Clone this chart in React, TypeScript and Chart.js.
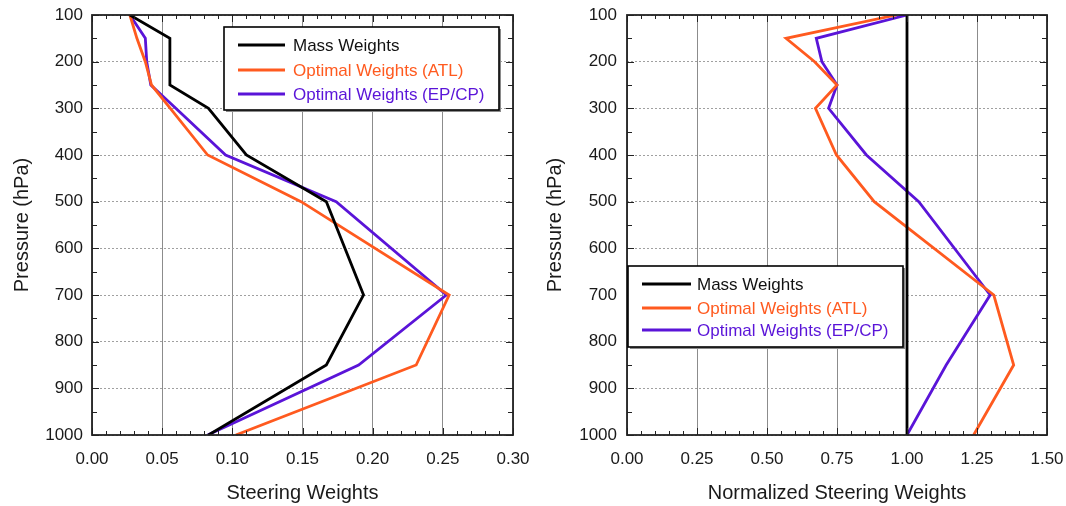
import React, { useEffect, useRef } from "react";
import { Chart, registerables } from "chart.js";
Chart.register(...registerables);

// ---- data ----
const pressureLevels = [100, 150, 200, 250, 300, 400, 500, 700, 850, 1000];
const massWeights = [0.027, 0.0555, 0.0555, 0.0555, 0.083, 0.11, 0.167, 0.1935, 0.167, 0.083];
const atlWeights = [0.027, 0.032, 0.038, 0.0424, 0.0558, 0.0824, 0.149, 0.2545, 0.231, 0.1025];
const epcpWeights = [0.027, 0.038, 0.039, 0.0419, 0.0597, 0.0952, 0.174, 0.2525, 0.19, 0.0824];

const massNorm = [1, 1, 1, 1, 1, 1, 1, 1, 1, 1];
const atlNorm = [0.962, 0.568, 0.67, 0.75, 0.673, 0.748, 0.883, 1.31, 1.381, 1.238];
const epcpNorm = [1.0, 0.676, 0.696, 0.75, 0.72, 0.855, 1.042, 1.297, 1.14, 1.0];

const seriesNames = ["Mass Weights", "Optimal Weights (ATL)", "Optimal Weights (EP/CP)"];
const leftXTitle = "Steering Weights";
const rightXTitle = "Normalized Steering Weights";
const yTitle = "Pressure (hPa)";

// ---- style ----
const FONT = "'Liberation Sans', Arial, Helvetica, sans-serif";
const COLORS = ["#000000", "#FF5A1F", "#5A14D8"];

type PanelProps = {
  offsetLeft: number;
  values: number[][];
  xMax: number;
  xStep: number;
  xMinor: number;
  xTitle: string;
  plotLeft: number;
  padRight: number;
  yPad: number;
  legend: { x: number; y: number; w: number; h: number; lx1: number; lx2: number; tx: number; rows: number[] };
};

function Panel(p: PanelProps) {
  const ref = useRef<HTMLCanvasElement | null>(null);
  useEffect(() => {
    if (!ref.current) return;
    const framePlugin = {
      id: "frameAndLegend",
      afterDatasetsDraw(chart: any) {
        const ctx = chart.ctx as CanvasRenderingContext2D;
        const a = chart.chartArea;
        const xs = chart.scales.x;
        const ys = chart.scales.y;
        ctx.save();
        ctx.strokeStyle = "#222";
        ctx.lineWidth = 1;
        // y ticks (major 100, minor 50)
        for (let v = 100; v <= 1000; v += 50) {
          const py = Math.round(ys.getPixelForValue(v)) + 0.5;
          const len = v % 100 === 0 ? 7 : 5;
          ctx.beginPath();
          ctx.moveTo(a.left, py);
          ctx.lineTo(a.left + len, py);
          ctx.moveTo(a.right, py);
          ctx.lineTo(a.right - len, py);
          ctx.stroke();
        }
        // x ticks
        const n = Math.round(p.xMax / p.xMinor);
        const per = Math.round(p.xStep / p.xMinor);
        for (let i = 0; i <= n; i++) {
          const px = Math.round(xs.getPixelForValue(i * p.xMinor)) + 0.5;
          const len = i % per === 0 ? 7 : 4;
          ctx.beginPath();
          ctx.moveTo(px, a.top);
          ctx.lineTo(px, a.top + len);
          ctx.moveTo(px, a.bottom);
          ctx.lineTo(px, a.bottom - len);
          ctx.stroke();
        }
        // frame
        ctx.strokeStyle = "#222";
        ctx.lineWidth = 1.8;
        ctx.strokeRect(a.left, a.top, a.right - a.left, a.bottom - a.top);

        // legend
        const L = p.legend;
        ctx.fillStyle = "#8a8a8a";
        ctx.fillRect(L.x + 2, L.y + 2, L.w, L.h);
        ctx.fillStyle = "#ffffff";
        ctx.fillRect(L.x, L.y, L.w, L.h);
        ctx.strokeStyle = "#000";
        ctx.lineWidth = 1.6;
        ctx.strokeRect(L.x, L.y, L.w, L.h);
        ctx.font = "17px " + FONT;
        ctx.textBaseline = "middle";
        ctx.textAlign = "left";
        seriesNames.forEach((name, i) => {
          const ry = L.rows[i];
          ctx.strokeStyle = COLORS[i];
          ctx.lineWidth = 3;
          ctx.beginPath();
          ctx.moveTo(L.lx1, ry);
          ctx.lineTo(L.lx2, ry);
          ctx.stroke();
          ctx.fillStyle = COLORS[i] === "#000000" ? "#111" : COLORS[i];
          ctx.fillText(name, L.tx, ry + 1);
        });
        ctx.restore();
      },
    };

    const chart = new Chart(ref.current, {
      type: "line",
      data: {
        datasets: p.values.map((vals, i) => ({
          label: seriesNames[i],
          data: vals.map((v, j) => ({ x: v, y: pressureLevels[j] })),
          borderColor: COLORS[i],
          backgroundColor: COLORS[i],
          borderWidth: 2.8,
          pointRadius: 0,
          tension: 0,
          fill: false,
        })),
      },
      options: {
        animation: false,
        responsive: false,
        maintainAspectRatio: false,
        layout: { padding: { left: 0, right: p.padRight, top: 15, bottom: 0 } },
        plugins: { legend: { display: false }, tooltip: { enabled: false } },
        scales: {
          x: {
            type: "linear",
            min: 0,
            max: p.xMax,
            afterFit: (s: any) => {
              s.height = 71;
              s.paddingLeft = 0;
              s.paddingRight = 0;
            },
            ticks: {
              stepSize: p.xStep,
              maxRotation: 0,
              autoSkip: false,
              padding: 14,
              color: "#1a1a1a",
              font: { family: FONT, size: 17 },
              callback: (v: any) => Number(v).toFixed(2),
            },
            grid: { color: "#8c8c8c", lineWidth: 1, drawTicks: false },
            border: { display: false },
            title: {
              display: true,
              text: p.xTitle,
              color: "#1a1a1a",
              font: { family: FONT, size: 20 },
              padding: { top: 0, bottom: 1 },
            },
          },
          y: {
            type: "linear",
            reverse: true,
            min: 100,
            max: 1000,
            afterFit: (s: any) => {
              s.width = p.plotLeft;
              s.paddingTop = 0;
              s.paddingBottom = 0;
            },
            ticks: {
              stepSize: 100,
              padding: p.yPad,
              color: "#1a1a1a",
              font: { family: FONT, size: 17 },
              callback: (v: any) => String(Math.round(Number(v))),
            },
            grid: { color: "#a0a0a0", lineWidth: 1, drawTicks: false },
            border: { display: false, dash: [2, 2] },
            title: {
              display: true,
              text: yTitle,
              color: "#1a1a1a",
              font: { family: FONT, size: 20 },
              padding: { top: 10, bottom: 0 },
            },
          },
        },
      },
      plugins: [framePlugin],
    } as any);
    return () => chart.destroy();
  }, []);
  return (
    <canvas
      ref={ref}
      width={533}
      height={506}
      style={{ position: "absolute", left: p.offsetLeft, top: 0, width: 533, height: 506 }}
    />
  );
}

export default function App() {
  return (
    <div style={{ position: "absolute", left: 0, top: 0, width: 1066, height: 506, background: "#fff" }}>
      <Panel
        offsetLeft={0}
        values={[massWeights, atlWeights, epcpWeights]}
        xMax={0.3}
        xStep={0.05}
        xMinor={0.01}
        xTitle={leftXTitle}
        plotLeft={92}
        padRight={20}
        yPad={9}
        legend={{ x: 224, y: 27, w: 275, h: 83, lx1: 238, lx2: 285, tx: 293, rows: [45, 70, 94] }}
      />
      <Panel
        offsetLeft={533}
        values={[massNorm, atlNorm, epcpNorm]}
        xMax={1.5}
        xStep={0.25}
        xMinor={0.05}
        xTitle={rightXTitle}
        plotLeft={94}
        padRight={19}
        yPad={10}
        legend={{ x: 95, y: 266, w: 275, h: 81, lx1: 109, lx2: 158, tx: 164, rows: [284, 308, 330] }}
      />
    </div>
  );
}
